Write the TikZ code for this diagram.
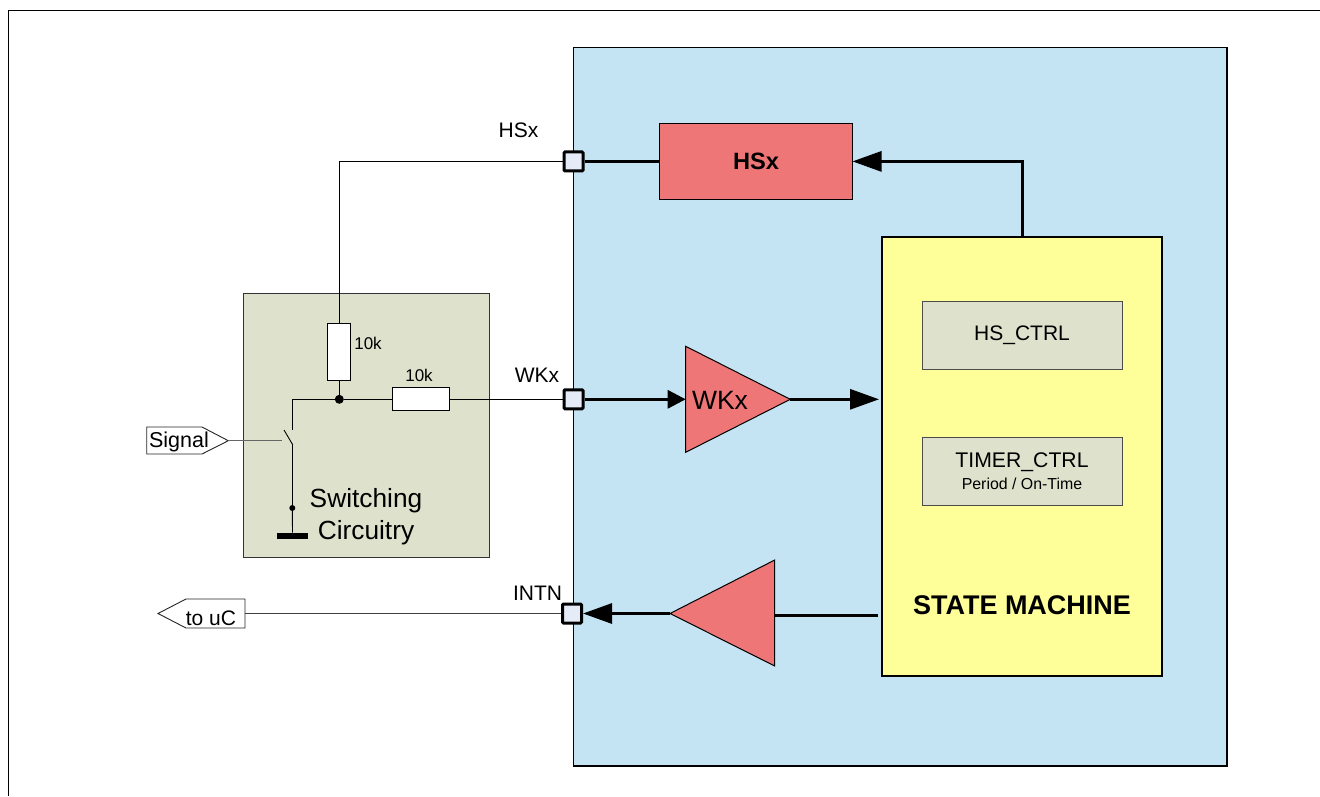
\documentclass[tikz,border=0pt]{standalone}
\usepackage{fontspec}
\setmainfont{Liberation Sans}
\usetikzlibrary{arrows.meta,calc}
\definecolor{chipblue}{HTML}{C4E3F3}
\definecolor{blockred}{HTML}{EE7676}
\definecolor{smyellow}{HTML}{FFFF99}
\definecolor{panelgreen}{HTML}{DEE2CC}
\definecolor{portfill}{HTML}{E6ECF7}
\newcommand{\fs}[1]{\fontsize{#1}{#1}\selectfont}
\tikzset{
  x=1pt,y=-1pt,
  block/.style={draw=black,line width=1pt,inner sep=0pt,outer sep=0pt,align=center},
  port/.style={draw=black,fill=portfill,line width=3pt,rounded corners=1pt,minimum size=19pt,inner sep=0pt,outer sep=1.5pt},
  resistor/.style={draw=black,fill=white,line width=1pt,inner sep=0pt,outer sep=0pt},
  thinwire/.style={draw=black,line width=0.9pt},
  thickwire/.style={draw=black,line width=3pt},
  headS/.style={-{Triangle[length=18pt,width=18pt]}},
  headL/.style={-{Triangle[length=29pt,width=20pt]}},
  lbl/.style={inner sep=0pt,outer sep=0pt,text=black},
  dotnode/.style={circle,fill=black,inner sep=0pt,outer sep=0pt},
}
\begin{document}
\begin{tikzpicture}
\useasboundingbox (0,0) rectangle (1320,796);
% page frame
\draw[line width=1pt] (8.5,796) -- (8.5,10.5) -- (1320,10.5);

% chip
\node[block,fill=chipblue,line width=1.2pt,minimum width=653.5pt,minimum height=718.5pt] (chip) at (900.25,406.75) {};
% switching panel
\node[block,fill=panelgreen,draw=black!80,minimum width=246pt,minimum height=264pt] (panel) at (366.5,425.5) {};

% ports
\node[port] (pH) at (573.5,161.4) {};
\node[port] (pW) at (573.5,399.3) {};
\node[port] (pI) at (572,613.5) {};

% blocks
\node[block,fill=blockred,minimum width=193pt,minimum height=75.5pt] (hsx) at (756,161.4) {\fs{23.6}\bfseries HSx};
\node[block,fill=smyellow,line width=1.3pt,minimum width=280pt,minimum height=439pt] (sm) at (1022,456.5) {};
\node[block,fill=panelgreen,draw=black!70,line width=0.8pt,minimum width=200pt,minimum height=68pt] (hsc) at (1022,335) {\raisebox{-1pt}{\fs{21}HS\_CTRL}};
\node[block,fill=panelgreen,draw=black!70,line width=0.8pt,minimum width=200pt,minimum height=68pt] (tmc) at (1022,471) {};
\node[lbl] (tmt) at (1022,462.5) {\fs{21.2}TIMER\_CTRL};
\node[lbl] (tms) at (1022,484) {\fs{15.9}Period / On-Time};
\node[lbl] (smt) at (1022,605) {\fs{27}\bfseries STATE MACHINE};

% amplifiers
\coordinate (wkT) at (685.7,346.3);
\coordinate (wkB) at (685.7,452.3);
\coordinate (wkO) at (790.3,399.3);
\coordinate (wkI) at (685.7,399.3);
\draw[fill=blockred,line width=1pt,line join=miter] (wkT) -- (wkO) -- (wkB) -- cycle;
\node[lbl] (wkl) at (720,400.5) {\fs{26.5}WKx};
\coordinate (inT) at (774.7,560);
\coordinate (inB) at (774.7,666);
\coordinate (inO) at (670,613.5);
\coordinate (inI) at (774.7,615);
\draw[fill=blockred,line width=1pt,line join=miter] (inT) -- (inO) -- (inB) -- cycle;

% thick signal paths
\draw[thickwire] (pH.east) -- (hsx.west);
\coordinate (smTop) at (1022,237);
\draw[thickwire,headL] (smTop) -- (1022,161.4) -- (hsx.east);
\draw[thickwire,headS] (pW.east) -- (wkI);
\coordinate (smW) at (879,399.3);
\draw[thickwire,headL] (wkO) -- (smW);
\coordinate (smI) at (878,615);
\draw[thickwire] (smI) -- (inI);
\draw[thickwire,headL] (inO) -- (pI.east);

% resistors and junctions
\node[resistor,minimum width=22.7pt,minimum height=57pt] (r1) at (339.3,351.8) {};
\node[resistor,minimum width=57.4pt,minimum height=22.7pt] (r2) at (421,399.3) {};
\node[dotnode,minimum size=9pt] (j1) at (339.3,399.3) {};
\node[dotnode,minimum size=6pt] (j2) at (292.3,508) {};

% switch
\coordinate (swA) at (292.3,429.5);
\coordinate (swB) at (284,430);
\coordinate (swC) at (292.7,444.7);
\coordinate (swD) at (292.3,444);
\coordinate (swS) at (281.7,440.7);
\node[fill=black,inner sep=0pt,outer sep=0pt,minimum width=31pt,minimum height=6.8pt] (gnd) at (292.5,536) {};

\draw[thinwire] (r1.south) -- (j1);
\draw[thinwire] (j1) -- (r2.west);
\draw[thinwire] (j1) -- (292.3,399.3) -- (swA);
\draw[thinwire] (swB) -- (swC);
\draw[thinwire] (swD) -- (j2);
\draw[thinwire] (j2) -- (gnd.north);
\draw[thinwire] (r1.north) -- (339.3,161.4) -- (pH.west);
\draw[thinwire] (r2.east) -- (pW.west);

% signal tags
\coordinate (sgA) at (146.7,427);
\coordinate (sgB) at (202,427);
\coordinate (sgTip) at (228.3,440.7);
\coordinate (sgC) at (202,454);
\coordinate (sgD) at (146.7,454);
\draw[fill=white,line width=0.9pt,draw=black!85] (sgA) -- (sgB) -- (sgTip) -- (sgC) -- (sgD) -- cycle;
\node[lbl] (sgl) at (179,441.5) {\fs{21.5}Signal};
\draw[draw=black!60,line width=1pt] (sgTip) -- (swS);

\coordinate (ucA) at (245,599);
\coordinate (ucB) at (186,599);
\coordinate (ucTip) at (158,613.5);
\coordinate (ucC) at (186,628);
\coordinate (ucD) at (245,628);
\draw[fill=white,line width=0.9pt,draw=black!85] (ucA) -- (ucB) -- (ucTip) -- (ucC) -- (ucD) -- cycle;
\node[lbl] (ucl) at (211,618) {\fs{21}to uC};
\draw[draw=black!75,line width=1pt] ($(ucA)!0.5!(ucD)$) -- (pI.west);

% labels
\node[lbl] (lH) at (518.5,130) {\fs{21}HSx};
\node[lbl] (lW) at (537,375) {\fs{21}WKx};
\node[lbl] (lI) at (537.5,593) {\fs{21}INTN};
\node[lbl] (lr1) at (368,343) {\fs{17}10k};
\node[lbl] (lr2) at (419,375) {\fs{17}10k};
\node[lbl] (lp1) at (366,501) {\fs{26.3}Switching};
\node[lbl] (lp2) at (366,533) {\fs{26.3}Circuitry};
\end{tikzpicture}
\end{document}
